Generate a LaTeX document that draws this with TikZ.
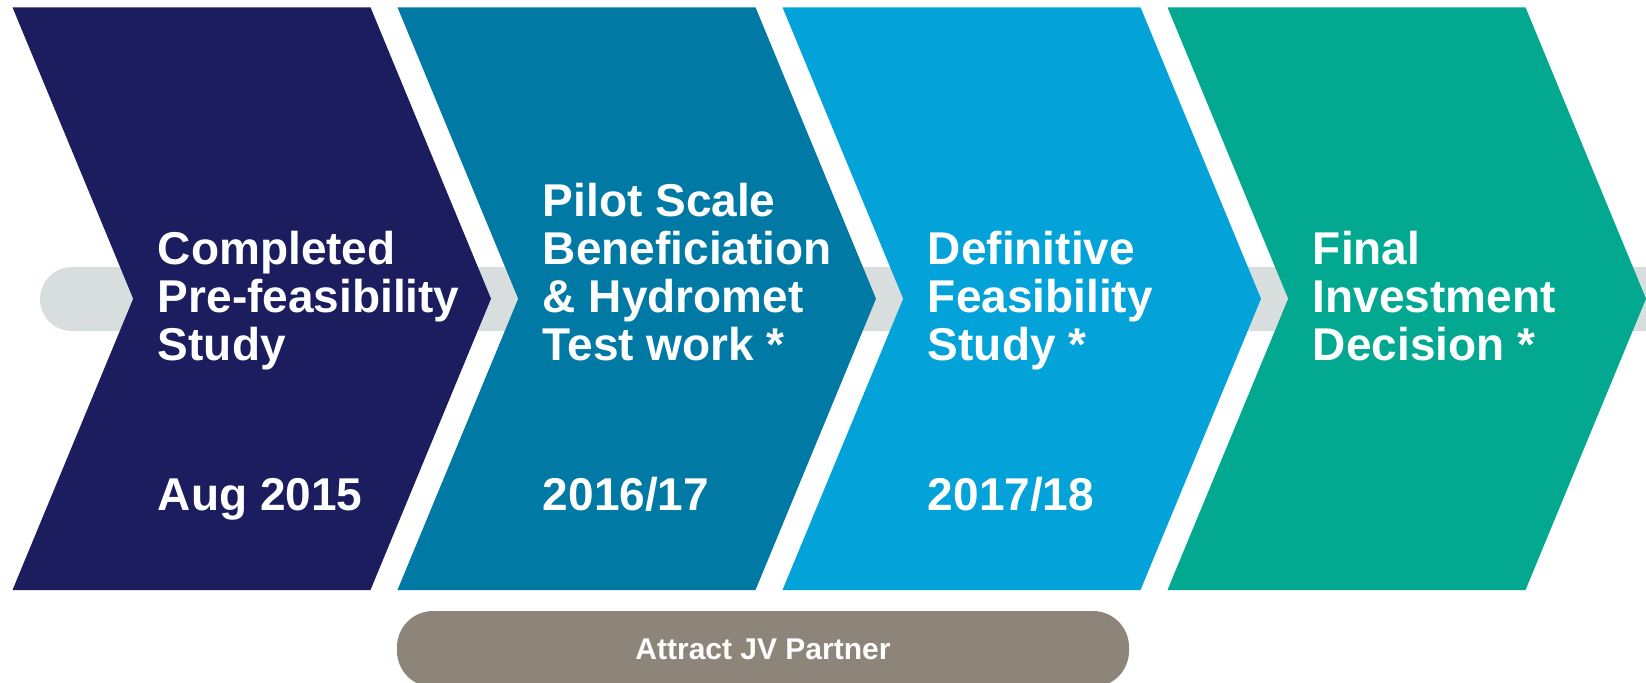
\documentclass[tikz,border=0pt]{standalone}
\usepackage{fontspec}
\setmainfont{Liberation Sans}

\definecolor{stepA}{RGB}{27,29,94}
\definecolor{stepB}{RGB}{0,121,165}
\definecolor{stepC}{RGB}{3,163,218}
\definecolor{stepD}{RGB}{2,168,143}
\definecolor{bandgray}{RGB}{216,221,221}
\definecolor{pillgray}{RGB}{142,133,122}

\tikzset{
	steptext/.style={text=white, font=\fontsize{23}{23.9}\selectfont\bfseries, align=left, anchor=base west, inner sep=0pt},
	partnertext/.style={text=white, font=\fontsize{15}{18}\selectfont\bfseries, inner sep=0pt}
}

\newcommand{\pchevron}[2]{
	\pgfmathsetmacro{\PCxa}{#1}
	\pgfmathsetmacro{\PCxb}{#1+358}
	\pgfmathsetmacro{\PCxc}{#1+478.5}
	\pgfmathsetmacro{\PCxd}{#1+120.7}
	\fill[color=#2] (\PCxa, \chTop) -- (\PCxb, \chTop) -- (\PCxc, \chMid) -- (\PCxb, \chBot) -- (\PCxa, \chBot) -- (\PCxd, \chMid) -- cycle;
}

\begin{document}
\begin{tikzpicture}[x=0.5pt, y=-0.5pt]
\useasboundingbox (0,0) rectangle (1646,682);
\clip (0,0) rectangle (1646,682);

\pgfmathsetmacro{\chTop}{7.3}
\pgfmathsetmacro{\chMid}{298.7}
\pgfmathsetmacro{\chBot}{590}

\fill[bandgray, rounded corners=16pt] (40,267) rectangle (1700,331);

\pchevron{12.5}{stepA}
\pchevron{397.5}{stepB}
\pchevron{782.5}{stepC}
\pchevron{1167.5}{stepD}

\node[steptext] (studyA) at (157.5,360) {Completed\\Pre-feasibility\\Study};
\node[steptext] (studyB) at (542.5,360) {Pilot Scale\\Beneficiation\\\& Hydromet\\Test work *};
\node[steptext] (studyC) at (927.5,360) {Definitive\\Feasibility\\Study *};
\node[steptext] (studyD) at (1312.5,360) {Final\\Investment\\Decision *};

\node[steptext] (dateA) at (157.5,510) {Aug 2015};
\node[steptext] (dateB) at (542.5,510) {2016/17};
\node[steptext] (dateC) at (927.5,510) {2017/18};

\fill[pillgray, rounded corners=18pt] (397,611) rectangle (1129,687);
\node[partnertext] (partner) at (763,649) {Attract JV Partner};
\end{tikzpicture}
\end{document}
